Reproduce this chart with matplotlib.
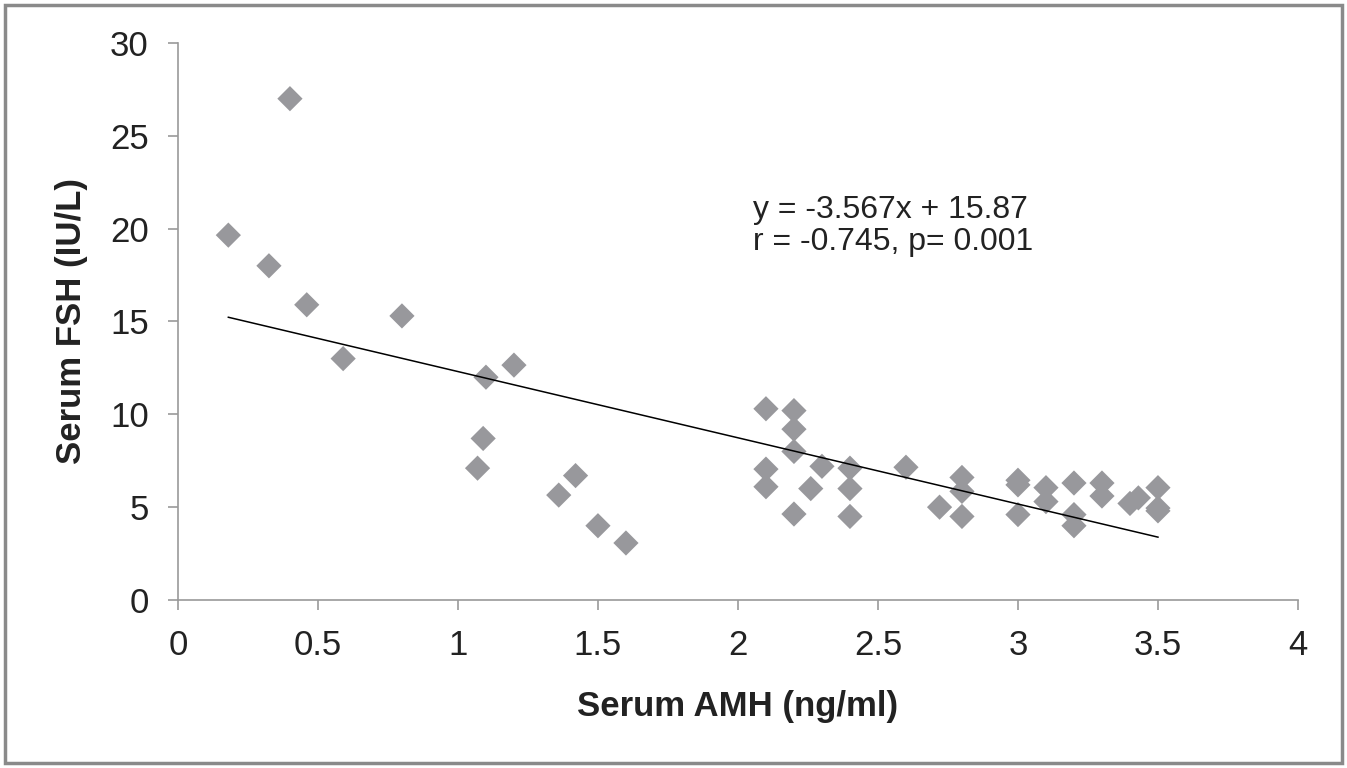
import numpy as np
import matplotlib
matplotlib.use('Agg')
import matplotlib.pyplot as plt
from matplotlib.patches import Rectangle

plt.rcParams['font.family'] = ['Liberation Sans', 'DejaVu Sans']

# 散点数据 (Serum AMH vs Serum FSH)
amh = [0.18, 0.325, 0.40, 0.46, 0.59, 0.80, 1.07, 1.09, 1.10, 1.20,
       1.36, 1.42, 1.50, 1.60,
       2.10, 2.10, 2.10, 2.20, 2.20, 2.20, 2.20, 2.26, 2.30,
       2.40, 2.40, 2.40, 2.60, 2.72, 2.80, 2.80, 2.80,
       3.00, 3.00, 3.00, 3.10, 3.10, 3.20, 3.20, 3.20,
       3.30, 3.30, 3.40, 3.43, 3.50, 3.50, 3.50]
fsh = [19.65, 18.0, 27.0, 15.9, 13.0, 15.3, 7.1, 8.7, 12.0, 12.65,
       5.65, 6.7, 4.0, 3.07,
       10.3, 7.05, 6.1, 10.2, 9.2, 8.0, 4.63, 6.0, 7.2,
       7.1, 6.0, 4.5, 7.15, 5.0, 6.6, 5.85, 4.5,
       6.45, 6.2, 4.6, 6.05, 5.3, 6.3, 4.6, 4.0,
       6.3, 5.6, 5.2, 5.5, 6.05, 4.95, 4.8]

# 回归线
slope = -3.567
intercept = 15.87
fit_x = [0.18, 3.5]

fig = plt.figure(figsize=(13.47, 7.68), dpi=100)
ax = fig.add_axes([0.1321, 0.21875, 0.8315, 0.7253])

ax.scatter(amh, fsh, marker='D', s=165, color='#98989c', edgecolors='none', zorder=3)
fx = np.array(fit_x)
ax.plot(fx, slope * fx + intercept, color='black', linewidth=1.1, zorder=4)

ax.set_xlim(0, 4)
ax.set_ylim(0, 30)
ax.set_xticks(np.arange(0, 4.01, 0.5))
ax.set_xticklabels(['0', '0.5', '1', '1.5', '2', '2.5', '3', '3.5', '4'])
ax.set_yticks(range(0, 31, 5))

for side in ['top', 'right']:
    ax.spines[side].set_visible(False)
for side in ['left', 'bottom']:
    ax.spines[side].set_color('#9a9a9a')
    ax.spines[side].set_linewidth(1.2)
ax.tick_params(axis='both', colors='#9a9a9a', labelcolor='#222222',
               labelsize=25, length=7, width=1.2)
ax.tick_params(axis='x', pad=14)
ax.tick_params(axis='y', pad=14)

ax.set_xlabel('Serum AMH (ng/ml)', fontsize=25, fontweight='bold', labelpad=20, color='#222222')
ax.set_ylabel('Serum FSH (IU/L)', fontsize=25, fontweight='bold', labelpad=16, color='#222222')

ax.text(2.055, 20.15, 'y = -3.567x + 15.87\nr = -0.745, p= 0.001', fontsize=23,
        ha='left', va='center', color='#222222', linespacing=1.1)

# 外框
fig.patches.append(Rectangle((0.004, 0.006), 0.992, 0.988, transform=fig.transFigure,
                             fill=False, edgecolor='#8a8a8a', linewidth=2.5))

fig.savefig('out.png', dpi=100)
